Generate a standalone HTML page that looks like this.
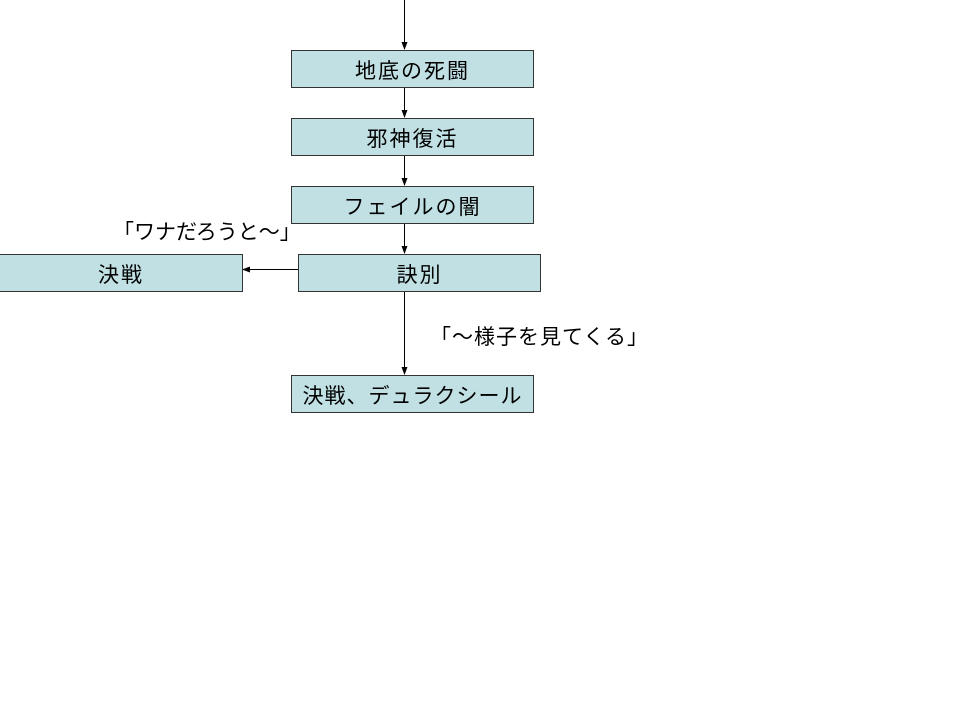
<!DOCTYPE html>
<html><head><meta charset="utf-8"><style>
body{margin:0;width:960px;height:720px;background:#fff;position:relative;overflow:hidden;font-family:"Liberation Sans","Noto Sans CJK JP",sans-serif}
.b{position:absolute;background:#c0e0e4;border:1px solid #333;box-sizing:border-box;height:38px;font-size:21px;letter-spacing:2px;line-height:42px;text-align:center;color:#000}
.t{position:absolute;font-size:21px;color:#000;white-space:nowrap;line-height:24px}
</style></head><body>
<svg width="960" height="720" style="position:absolute;left:0;top:0">
<defs><marker id="a" markerWidth="8" markerHeight="8" refX="7" refY="4" orient="auto" markerUnits="userSpaceOnUse"><path d="M0,1 L8,4 L0,7z" fill="#000"/></marker></defs>
<g stroke="#000" stroke-width="1">
<line x1="404.5" y1="0" x2="404.5" y2="49" marker-end="url(#a)"/>
<line x1="404.5" y1="87" x2="404.5" y2="117" marker-end="url(#a)"/>
<line x1="404.5" y1="155" x2="404.5" y2="185" marker-end="url(#a)"/>
<line x1="404.5" y1="223" x2="404.5" y2="253" marker-end="url(#a)"/>
<line x1="404.5" y1="291" x2="404.5" y2="374" marker-end="url(#a)"/>
<line x1="298" y1="269.5" x2="243" y2="269.5" marker-end="url(#a)"/>
</g></svg>
<div class="b" style="left:291px;top:50px;width:243px">地底の死闘</div>
<div class="b" style="left:291px;top:118px;width:243px">邪神復活</div>
<div class="b" style="left:291px;top:186px;width:243px">フェイルの闇</div>
<div class="b" style="left:298px;top:254px;width:243px">訣別</div>
<div class="b" style="left:-1px;top:254px;width:244px">決戦</div>
<div class="b" style="left:291px;top:375px;width:243px;letter-spacing:1px">決戦、デュラクシール</div>
<div class="t" style="left:113px;top:221px">「ワナだろうと～」</div>
<div class="t" style="left:430px;top:326px;letter-spacing:1px">「～様子を見てくる」</div>
</body></html>
